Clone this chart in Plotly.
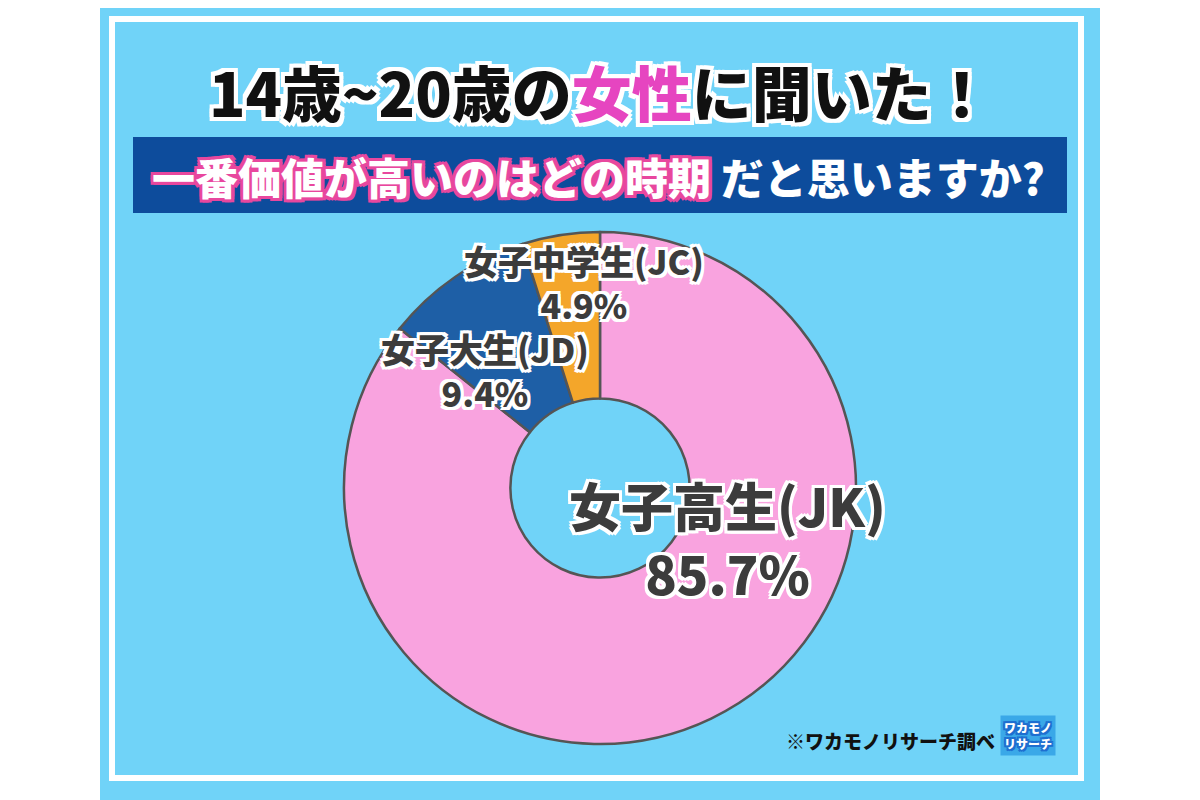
import plotly.graph_objects as go

categories = ["女子高生(JK)", "女子大生(JD)", "女子中学生(JC)"]
values = [85.7, 9.4, 4.9]
colors = ["#F9A3DF", "#1E5FA6", "#F4A62A"]

W, H = 1200, 800
OFF = 8  # page body margin
def px(x): return (x - OFF) / W
def py(y): return 1 - (y - OFF) / H

fig = go.Figure(go.Pie(
    labels=categories, values=values, sort=False, direction="clockwise", rotation=0,
    hole=0.35, marker=dict(colors=colors, line=dict(color="#555555", width=2.5)),
    textinfo="none", hoverinfo="label+percent", showlegend=False,
    domain=dict(x=[px(344), px(856)], y=[py(745), py(231)]),
))

def outline(c, w=3):
    parts = []
    for dx in (-w, 0, w):
        for dy in (-w, 0, w):
            if dx or dy:
                parts.append(f"{dx}px {dy}px 0 {c}")
    return ", ".join(parts)

shapes = [
    dict(type="rect", xref="paper", yref="paper", x0=px(100), x1=px(1100), y0=-0.1, y1=1.1,
         fillcolor="#70D3F8", line=dict(width=0), layer="below"),
    dict(type="rect", xref="paper", yref="paper", x0=px(112), x1=px(1081), y0=py(778), y1=py(19),
         fillcolor="#70D3F8", line=dict(color="white", width=6), layer="below"),
    dict(type="rect", xref="paper", yref="paper", x0=px(133), x1=px(1067), y0=py(213), y1=py(137),
         fillcolor="#0D4C9C", line=dict(width=0), layer="below"),
]

F = "Noto Sans CJK JP"
ann = []
def A(x, y, text, font, **kw):
    d = dict(x=px(x), y=py(y), xref="paper", yref="paper", showarrow=False, text=text,
             font=font, xanchor="center", yanchor="middle", align="center")
    d.update(kw)
    ann.append(d)

A(600, 90, "14歳~20歳の<span style='color:#E645C0'>女性</span>に聞いた！",
  dict(family=F, size=60, color="#111111", weight=900, shadow=outline("white", 4)))
A(598, 176, "<span style='text-shadow:" + outline("#E8479E", 3) + "'>一番価値が高いのはどの時期</span> だと思いますか?",
  dict(family=F, size=43, color="white", weight=900))

lab = "#3C3C3C"
for t, x, y, s in [
    (f"{categories[2]}<br>{values[2]}%", 584, 282, 34),
    (f"{categories[1]}<br>{values[1]}%", 485, 370, 34),
    (f"{categories[0]}<br>{values[0]}%", 727, 538, 52),
]:
    A(x, y, t, dict(family=F, size=s, color=lab, weight=900, shadow=outline("white", 3)))

A(890, 740, "※ワカモノリサーチ調べ", dict(family=F, size=19, color="#111111", weight=900))
A(1028, 735, "ワカモノ<br>リサーチ", dict(family=F, size=12, color="white", weight=900,
  shadow=outline("#1E6FD0", 2)), bgcolor="#3AA8E8", borderpad=3)

fig.update_layout(width=W, height=H, margin=dict(l=0, r=0, t=0, b=0),
                  paper_bgcolor="white", plot_bgcolor="white",
                  shapes=shapes, annotations=ann)
fig.write_html("out.html")
